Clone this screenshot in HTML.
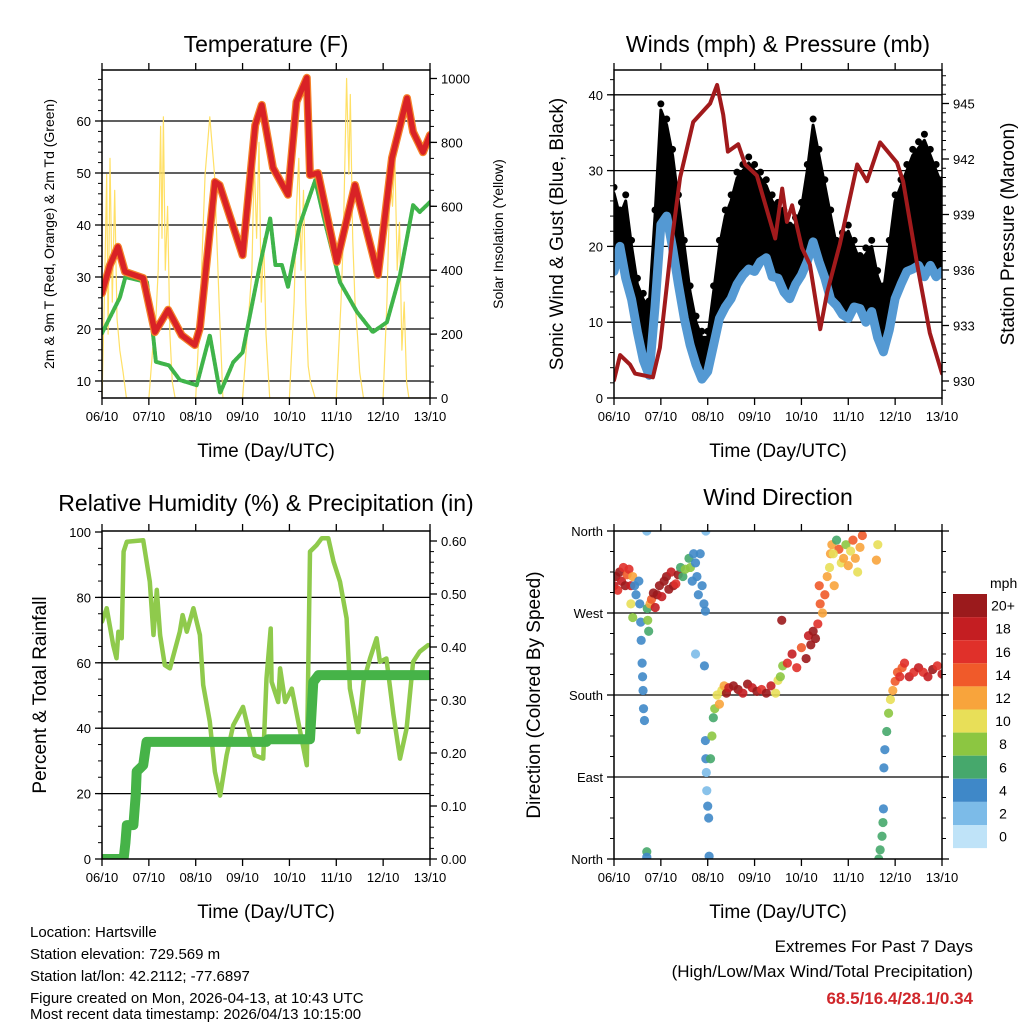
<!DOCTYPE html>
<html><head><meta charset="utf-8">
<style>
html,body{margin:0;padding:0;background:#fff;}
svg{display:block;font-family:"Liberation Sans",Arial,sans-serif;}
</style></head>
<body>
<svg id="chart" width="1024" height="1024" viewBox="0 0 1024 1024" xmlns="http://www.w3.org/2000/svg">
<rect x="0" y="0" width="1024" height="1024" fill="#fff"/>
<g id="layer"></g>
<g font-size="15" fill="#000">
<text x="30" y="937">Location: Hartsville</text>
<text x="30" y="959">Station elevation: 729.569 m</text>
<text x="30" y="981">Station lat/lon: 42.2112; -77.6897</text>
<text x="30" y="1003">Figure created on Mon, 2026-04-13, at 10:43 UTC</text>
<text x="30" y="1019">Most recent data timestamp: 2026/04/13 10:15:00</text>
</g>
<g font-size="17" text-anchor="end">
<text x="973" y="952">Extremes For Past 7 Days</text>
<text x="973" y="977">(High/Low/Max Wind/Total Precipitation)</text>
<text x="973" y="1004" fill="#d0262a" font-weight="bold">68.5/16.4/28.1/0.34</text>
</g>
</svg>
<script>
// ---------- DATA ----------
const dayLabels = ["06/10","07/10","08/10","09/10","10/10","11/10","12/10","13/10"];
// Temperature (F)
const tempDays = [0,0.17,0.34,0.49,0.88,1.13,1.41,1.7,1.98,2.09,2.41,2.51,3.0,3.27,3.41,3.65,3.97,4.15,4.37,4.44,4.61,5.01,5.4,5.89,6.19,6.51,6.64,6.85,7.0];
const tempVals = [26.9,32.3,35.8,31,29.8,19.4,23.7,18.8,16.9,20.2,48.3,47.7,34.2,59.2,63.1,51,45.8,63.7,68.3,49.6,50,32.9,47.7,30.4,52.9,64.4,57.9,54,57.3];
const dewDays = [0,0.38,0.5,0.96,1.09,1.15,1.43,1.66,2.02,2.3,2.52,2.8,3.0,3.37,3.59,3.7,3.84,3.97,4.22,4.55,4.72,5.08,5.44,5.78,6.08,6.36,6.64,6.78,7.0];
const dewVals = [19.2,26,30,29,18.8,13.7,13,10.2,9.2,18.8,7.7,13.6,15.5,32.3,41.3,32.3,32.3,28.1,40,48.6,41.9,29,23.3,19.4,21.3,30.4,43.8,42.5,44.4];
const solarDays = [0,0.05,0.1,0.13,0.17,0.22,0.27,0.32,0.38,0.45,0.52,1.0,1.08,1.15,1.2,1.25,1.28,1.31,1.35,1.4,1.45,1.5,1.56,2.0,2.1,2.2,2.3,2.4,2.5,2.58,3.0,3.1,3.2,3.25,3.3,3.35,3.4,3.45,3.5,3.58,4.0,4.1,4.15,4.2,4.25,4.3,4.35,4.4,4.45,4.55,5.0,5.1,5.15,5.22,5.27,5.3,5.35,5.4,5.45,5.5,5.58,6.0,6.08,6.15,6.2,6.25,6.3,6.35,6.4,6.45,6.5,6.55,7.0];
const solarVals = [0,300,700,200,750,300,650,250,150,80,0,0,150,250,400,850,500,880,400,600,200,50,0,0,300,700,880,700,300,0,0,200,400,750,500,800,300,500,200,0,0,300,600,750,400,650,300,100,50,0,0,300,500,1000,700,950,500,300,200,80,0,0,300,700,600,750,400,550,150,300,50,0,0];
// Winds (eighth-day samples)
const windVals = [16.7,20,15.8,13,8.7,5,3,12,22.9,24,19.8,15,10.5,7,4.4,2.5,3.5,7,10.5,12,13.1,15,16.2,17,16.7,18,18.5,16,15.8,14,13.1,15,16.2,18,20.6,18,15.8,13,12.2,11,10.5,12,11.8,10,11.4,8,6.1,9,13.1,15,16.7,17,17.5,16,17.5,16,16.7];
const gustVals = [27,24,26,20,15,13,12,24,38,36,32,26,20,14,10,8,8,14,20,24,26,29,30,31,30,29,28,26,25,24,22,23,25,30,36,32,28,24,20,21,22,20,18,19,20,16,14,20,26,28,30,32,33,34,32,30,28];
const presDays = [0,0.13,0.34,0.45,0.83,0.98,1.24,1.41,1.69,2.05,2.2,2.33,2.43,2.65,2.8,3.05,3.44,3.59,3.69,3.8,4.01,4.18,4.4,4.55,4.82,5.19,5.4,5.68,6.04,6.17,6.47,6.74,7.0];
const presVals = [930.05,931.4,930.9,930.4,930.2,931.8,937.7,941,944,945,946,944.4,942.4,942.8,941.7,941.1,937.7,940.4,938.6,939.5,937.2,936.3,932.8,934.8,937.4,941.7,940.8,942.9,941.8,940.8,936.3,932.6,930.4];
// Relative humidity & precipitation
const rhDays = [0,0.1,0.24,0.31,0.35,0.42,0.46,0.53,0.88,1.02,1.1,1.17,1.24,1.34,1.45,1.66,1.72,1.81,1.95,2.09,2.16,2.3,2.41,2.52,2.66,2.8,3.01,3.12,3.26,3.44,3.51,3.6,3.62,3.76,3.8,3.91,4.05,4.19,4.3,4.37,4.44,4.58,4.69,4.83,4.94,5.08,5.22,5.29,5.47,5.58,5.72,5.86,5.93,6.07,6.22,6.36,6.5,6.64,6.78,6.96];
const rhVals = [72.6,76.7,65.4,61.4,69.5,67.5,94,97,97.5,84.8,68.5,82.3,68.5,59.3,58.3,69.5,74.6,69.5,76.7,68.5,53.2,42,26.7,19.4,31.7,40.9,46.5,39.9,31.7,30.7,55.2,70.5,54.2,48,58.3,48,52.1,41.9,33.8,28.7,94,96,98.1,98.1,91,84.8,73.6,52.1,38.8,54.2,61.3,67.5,60.3,61.3,44,30.7,39.9,60.3,63.4,65.4];
const precDays = [0,0.46,0.5,0.53,0.67,0.72,0.74,0.88,0.95,3.51,3.55,4.44,4.51,4.62,7.0];
const precVals = [0,0,0.03,0.064,0.064,0.12,0.165,0.177,0.221,0.221,0.226,0.226,0.334,0.347,0.347];
// Wind direction (day, degrees, mph)
const dirDays = [0.0,0.04,0.08,0.12,0.16,0.2,0.24,0.28,0.32,0.36,0.4,0.36,0.4,0.44,0.47,0.53,0.55,0.57,0.58,0.6,0.61,0.62,0.63,0.65,0.7,0.7,0.7,0.71,0.72,0.74,0.77,0.8,0.84,0.88,0.92,0.97,1.02,1.07,1.12,1.17,1.22,1.27,1.32,1.37,1.42,1.47,1.52,1.6,1.63,1.67,1.7,1.74,1.77,1.8,1.84,1.88,1.92,1.95,1.74,1.93,1.95,1.96,1.97,1.98,2.0,2.02,1.96,2.03,2.06,2.09,2.12,2.15,2.2,2.25,2.3,2.35,2.4,2.45,2.55,2.65,2.75,2.85,2.95,3.05,3.15,3.25,3.35,3.45,3.5,3.55,3.6,3.58,3.7,3.8,3.9,4.0,4.1,4.15,4.2,4.25,4.3,4.35,4.38,4.4,4.45,4.5,4.55,4.6,4.62,4.65,4.7,4.75,4.8,4.85,4.9,4.95,5.0,5.05,5.1,5.15,5.2,5.25,5.3,4.68,5.6,5.63,5.65,5.68,5.72,5.74,5.75,5.76,5.78,5.82,5.86,5.9,5.95,6.0,6.05,6.1,6.15,6.2,6.3,6.4,6.5,6.6,6.7,6.8,6.9,7.0];
const dirVals = [300,310,295,315,305,320,300,312,318,300,310,280,265,300,290,305,280,260,240,215,200,185,165,152,360,8,2,275,262,250,280,285,292,276,290,300,288,305,310,296,315,300,302,312,320,310,318,330,320,305,335,325,310,290,335,300,280,272,225,212,130,110,95,75,58,45,360,3,110,135,155,165,180,170,185,190,182,188,190,186,182,192,188,184,186,182,190,182,196,200,212,262,215,225,210,232,220,245,235,250,242,258,300,280,270,290,310,320,335,345,300,350,340,325,330,345,322,338,350,330,315,342,355,335,328,345,0,10,25,40,55,100,120,140,160,175,185,195,205,200,210,215,200,205,210,205,200,208,212,203,210,215,208];
const dirSpeeds = [18,20,16,20,18,16,20,14,16,18,12,10,8,4,4,4,4,4,4,4,4,4,4,4,2,6,4,6,8,6,12,14,20,18,20,20,18,20,20,20,18,20,16,20,6,6,7,6,7,4,4,4,4,4,4,4,4,4,2,4,4,4,2,2,4,4,2,4,6,8,6,8,10,12,10,12,20,18,20,20,18,20,18,20,16,20,18,10,10,8,7,20,16,18,16,14,20,18,20,20,20,16,14,14,12,14,12,10,12,11,12,6,14,10,12,8,12,10,14,11,10,12,14,10,12,10,6,6,6,6,4,4,4,6,8,10,12,14,14,16,14,16,18,16,18,16,18,20,16,18,16,18];
const speedLabels = ["20+","18","16","14","12","10","8","6","4","2","0"];
const speedColors = ["#9b1a1c","#c41e22","#e0302a","#f05a2a","#f8a43c","#e8df58","#8cc641","#46a86c","#3f88c8","#7cbbe8","#bfe3f8"];

// ---------- HELPERS ----------
const NS = "http://www.w3.org/2000/svg";
const layer = document.getElementById("layer");
function el(tag, attrs, parent) {
  const e = document.createElementNS(NS, tag);
  for (const k in attrs) e.setAttribute(k, attrs[k]);
  (parent || layer).appendChild(e);
  return e;
}
function txt(s, attrs, parent) { const t = el("text", attrs, parent); t.textContent = s; return t; }

function makePanel(cfg) {
  const g = el("g", {});
  
  
  cfg.g = g;
  cfg.xs = d => cfg.x0 + d * (cfg.x1 - cfg.x0) / 7;
  return cfg;
}
function frame(p, leftY, gridVals) {
  gridVals.forEach(v => {
    const l = el("line", {x1:p.x0, x2:p.x1, y1:leftY(v), y2:leftY(v), stroke:"#000", "stroke-width":1.3}, p.g);
    
    
  });
}
function axes(p, leftTicks, leftY, leftFmt, rightTicks, rightY, rightFmt, leftMinor, rightMinor) {
  const g = el("g", {}, p.g);
  
  
  const r = el("rect", {x:p.x0, y:p.y0, width:p.x1-p.x0, height:p.y1-p.y0, fill:"none", stroke:"#000", "stroke-width":1.5}, g);
  
  
  dayLabels.forEach((lab, i) => {
    const x = p.xs(i);
    el("line", {x1:x, x2:x, y1:p.y1, y2:p.y1+7, stroke:"#000", "stroke-width":1.3}, g);
    el("line", {x1:x, x2:x, y1:p.y0, y2:p.y0-7, stroke:"#000", "stroke-width":1.3}, g);
    const t = txt(lab, {x:x, y:p.y1+23, "font-size":13, "text-anchor":"middle"}, g);
    
    
  });
  leftMinor.forEach(v => el("line", {x1:p.x0-4, x2:p.x0, y1:leftY(v), y2:leftY(v), stroke:"#000", "stroke-width":1}, g));
  rightMinor.forEach(v => el("line", {x1:p.x1, x2:p.x1+4, y1:rightY(v), y2:rightY(v), stroke:"#000", "stroke-width":1}, g));
  leftTicks.forEach(v => {
    el("line", {x1:p.x0-7, x2:p.x0, y1:leftY(v), y2:leftY(v), stroke:"#000", "stroke-width":1.3}, g);
    const t = txt(leftFmt(v), {x:p.x0-11, y:leftY(v)+5, "font-size":13, "text-anchor":"end"}, g);
    
    
  });
  rightTicks.forEach(v => {
    el("line", {x1:p.x1, x2:p.x1+7, y1:rightY(v), y2:rightY(v), stroke:"#000", "stroke-width":1.3}, g);
    if (rightFmt) {
      const t = txt(rightFmt(v), {x:p.x1+11, y:rightY(v)+5, "font-size":13, "text-anchor":"start"}, g);
      
      
    }
  });
  const xt = txt("Time (Day/UTC)", {x:(p.x0+p.x1)/2, y:p.y1+59, "font-size":19, "text-anchor":"middle"}, g);
  
  
}
function title(p, s, y) {
  const t = txt(s, {x:(p.x0+p.x1)/2, y:y, "font-size":23, "text-anchor":"middle"}, p.g);
  
  
}
function vtitle(p, s, x, y, size, name) {
  const t = txt(s, {x:0, y:0, "font-size":size, "text-anchor":"middle", transform:`translate(${x},${y}) rotate(-90)`}, p.g);
  
  
}
function line(p, days, vals, yf, style, name, parent) {
  const pts = days.map((d, i) => p.xs(d).toFixed(1) + "," + yf(vals[i]).toFixed(1)).join(" ");
  const a = Object.assign({points:pts, fill:"none", "stroke-linejoin":"round", "stroke-linecap":"round"}, style);
  const l = el("polyline", a, parent || p.clip);
  
  
  return l;
}
function clipFor(p, id) {
  const cp = el("clipPath", {id:id}, p.g);
  el("rect", {x:p.x0, y:p.y0, width:p.x1-p.x0, height:p.y1-p.y0}, cp);
  const g = el("g", {"clip-path":`url(#${id})`}, p.g);
  
  
  p.clip = g;
}
const range = (a, b, s) => { const r = []; for (let v = a; v <= b + 1e-9; v += s) r.push(+v.toFixed(4)); return r; };

// ---------- PANEL 1: TEMPERATURE ----------
const p1 = makePanel({name:"temperature-panel", x0:102, x1:430, y0:70, y1:398});
const yT = v => 381 - (v - 10) * 5.2;
const yS = v => 398 - v * 0.3195;
title(p1, "Temperature (F)", 52);
frame(p1, yT, [10,20,30,40,50,60]);
clipFor(p1, "c1");
line(p1, solarDays, solarVals, yS, {stroke:"#ffe066", "stroke-width":1.2}, "solar-insolation-line");
line(p1, dewDays, dewVals, yT, {stroke:"#3fb44a", "stroke-width":4, "stroke-dasharray":"3 1.5"}, "dewpoint-line");
line(p1, tempDays, tempVals, yT, {stroke:"#f5822a", "stroke-width":8}, "temp-9m-line");
line(p1, tempDays, tempVals, yT, {stroke:"#d92226", "stroke-width":5.5}, "temp-2m-line");
axes(p1, [10,20,30,40,50,60], yT, v => String(v), [0,200,400,600,800,1000], yS, v => String(v), range(8,68,2), range(0,1000,50));
vtitle(p1, "2m & 9m T (Red, Orange) & 2m Td (Green)", 54, 234, 14, "y-axis-title-left");
vtitle(p1, "Solar Insolation (Yellow)", 503, 234, 14, "y-axis-title-right");

// ---------- PANEL 2: WINDS ----------
const p2 = makePanel({name:"winds-panel", x0:614, x1:942, y0:70, y1:398});
const yW = v => 398 - v * 7.58;
const yP = v => 381 - (v - 930) * 18.5;
title(p2, "Winds (mph) & Pressure (mb)", 52);
frame(p2, yW, [10,20,30,40]);
clipFor(p2, "c2");
{
  const step = 0.125;
  const top = gustVals.map((v, i) => p2.xs(i*step).toFixed(1) + "," + yW(v).toFixed(1));
  const bot = windVals.map((v, i) => p2.xs(i*step).toFixed(1) + "," + yW(v).toFixed(1)).reverse();
  const poly = el("polygon", {points: top.concat(bot).join(" "), fill:"#000", stroke:"#000", "stroke-width":3, "stroke-linejoin":"round"}, p2.clip);
  
  
  gustVals.forEach((v, i) => {
    const c = el("circle", {cx:p2.xs(i*step), cy:yW(v+0.8), r:3.5, fill:"#000"}, p2.clip);
    
    
  });
  const wd = windVals.map((v, i) => i*step);
  line(p2, wd, windVals, yW, {stroke:"#5499d3", "stroke-width":9}, "sonic-wind-line");
}
line(p2, presDays, presVals, yP, {stroke:"#a11a1c", "stroke-width":4}, "pressure-line");
axes(p2, [0,10,20,30,40], yW, v => String(v), [930,933,936,939,942,945], yP, v => String(v), range(0,42,2), range(929.5,946.5,0.5));
vtitle(p2, "Sonic Wind & Gust (Blue, Black)", 563, 234, 19, "y-axis-title-left");
vtitle(p2, "Station Pressure (Maroon)", 1014, 234, 19, "y-axis-title-right");

// ---------- PANEL 3: RH & PRECIP ----------
const p3 = makePanel({name:"humidity-panel", x0:102, x1:430, y0:531, y1:859});
const yR = v => 859 - v * 3.27;
const yPr = v => 859 - v * 530;
title(p3, "Relative Humidity (%) & Precipitation (in)", 511);
frame(p3, yR, [20,40,60,80]);
clipFor(p3, "c3");
line(p3, rhDays, rhVals, yR, {stroke:"#8fca4c", "stroke-width":4.5}, "relative-humidity-line");
line(p3, precDays, precVals, yPr, {stroke:"#46b348", "stroke-width":10}, "precipitation-line");
axes(p3, [0,20,40,60,80,100], yR, v => String(v), [0,0.1,0.2,0.3,0.4,0.5,0.6], yPr, v => v.toFixed(2), range(0,100,5), range(0,0.6,0.02));
vtitle(p3, "Percent & Total Rainfall", 46, 695, 19, "y-axis-title-left");

// ---------- PANEL 4: WIND DIRECTION ----------
const p4 = makePanel({name:"wind-direction-panel", x0:614, x1:942, y0:531, y1:859});
const yD = v => 859 - v * (328/360);
title(p4, "Wind Direction", 505);
frame(p4, yD, [90,180,270]);
clipFor(p4, "c4");
dirDays.forEach((d, i) => {
  const idx = Math.min(10, Math.round(dirSpeeds[i] / 2));
  const c = el("circle", {cx:p4.xs(d), cy:yD(dirVals[i]), r:4.6, fill:speedColors[10 - idx], "fill-opacity":0.9}, p4.clip);
  
  
});
const dirNames = ["North","East","South","West","North"];
axes(p4, [0,90,180,270,360], yD, v => dirNames[v/90], [0,90,180,270,360], yD, null, range(0,360,22.5), range(0,360,22.5));
vtitle(p4, "Direction (Colored By Speed)", 540, 695, 19, "y-axis-title-left");
{
  const lg = el("g", {}, p4.g);
  
  
  const mph = txt("mph", {x:990, y:588, "font-size":14, "text-anchor":"start"}, lg);
  
  
  const bh = 23.1, by = 594;
  speedLabels.forEach((lab, i) => {
    const r = el("rect", {x:953, y:by + i*bh, width:34, height:bh, fill:speedColors[i]}, lg);
    
    
    const t = txt(lab, {x:1003, y:by + i*bh + bh/2 + 5, "font-size":14, "text-anchor":"middle"}, lg);
    
    
  });
}
</script>
</body></html>
